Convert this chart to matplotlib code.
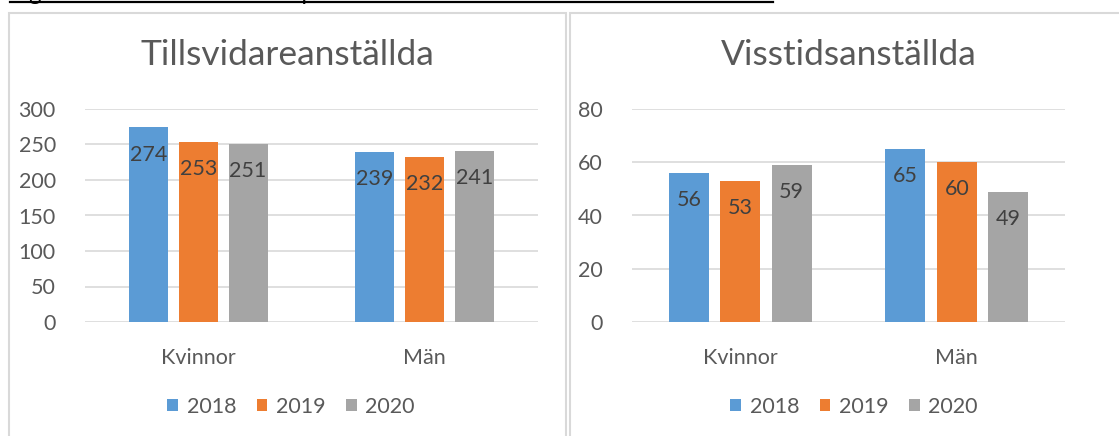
import matplotlib
matplotlib.use("Agg")
import matplotlib.pyplot as plt
from matplotlib.patches import Rectangle, Patch
from matplotlib.lines import Line2D
import numpy as np

categories = ["Kvinnor", "Män"]
years = ["2018", "2019", "2020"]
tillsvidare = {"2018": [274, 239], "2019": [253, 232], "2020": [251, 241]}
visstid = {"2018": [56, 65], "2019": [53, 60], "2020": [59, 49]}
colors = ["#5B9BD5", "#ED7D31", "#A5A5A5"]
txt = "#595959"
grid = "#D9D9D9"
FONT = ["Lato", "DejaVu Sans"]
plt.rcParams["font.family"] = FONT

W, H = 1119, 436
fig = plt.figure(figsize=(W / 100, H / 100), dpi=100)

def fx(px):
    return px / W

def fy(py):
    return 1 - py / H

# panel borders
fig.patches.append(Rectangle((fx(8.5), fy(440)), fx(566 - 8.5), fy(12.5) - fy(440),
                             transform=fig.transFigure, fill=False, ec=grid, lw=1.5))
fig.patches.append(Rectangle((fx(569.5), fy(440)), fx(1125 - 569.5), fy(12.5) - fy(440),
                             transform=fig.transFigure, fill=False, ec=grid, lw=1.5))

# cut-off caption at the top (as in the reference, only its lowest part is visible)
fig.text(fx(10), 1.0, "Figur 3. Antal tillsvidare- respektive visstidsanställda i Trosa kommun",
         fontsize=17, color="black", va="baseline", ha="left")
fig.add_artist(Line2D([fx(10), fx(773)], [fy(2.5), fy(2.5)], transform=fig.transFigure,
                      color="black", lw=1.6))

def panel(rect, data, ymax, step, title, title_x, bw, stepw, legend_x):
    ax = fig.add_axes(rect)
    x = np.arange(len(categories))
    for i, (y, c) in enumerate(zip(years, colors)):
        vals = data[y]
        pos = x + (i - 1) * stepw
        ax.bar(pos, vals, width=bw, color=c, zorder=3)
        for p, v in zip(pos, vals):
            ax.annotate(str(v), (p, v), xytext=(0, -19.5), textcoords="offset points",
                        ha="center", va="center", fontsize=15.5, color="#404040", zorder=4)
    ax.set_xlim(-0.5, 1.5)
    ax.set_ylim(0, ymax)
    ax.set_yticks(np.arange(0, ymax + 1, step))
    ax.set_xticks(x)
    ax.set_xticklabels(categories)
    ax.yaxis.grid(True, color=grid, lw=1.2, zorder=0)
    ax.set_axisbelow(True)
    for s in ax.spines.values():
        s.set_visible(False)
    ax.tick_params(axis="both", length=0, labelsize=15.5, labelcolor=txt)
    ax.tick_params(axis="y", pad=21)
    ax.tick_params(axis="x", pad=19)
    fig.text(title_x, fy(55), title, fontsize=25.5, color=txt, ha="center", va="center")
    handles = [Patch(facecolor=c, edgecolor="none") for c in colors]
    fig.legend(handles, years, loc="center", bbox_to_anchor=(legend_x, fy(407)),
               ncol=3, frameon=False, fontsize=15.5, labelcolor=txt,
               handlelength=0.5, handleheight=0.5, handletextpad=0.4, columnspacing=0.95)
    return ax

bottom = fy(322)
height = fy(109) - fy(322)
panel([fx(85), bottom, fx(538 - 85), height], tillsvidare, 300, 50,
      "Tillsvidareanställda", fx(287), 0.172, 0.22, fx(291))
panel([fx(632), bottom, fx(1065 - 632), height], visstid, 80, 20,
      "Visstidsanställda", fx(849), 0.185, 0.238, fx(854))

fig.savefig("out.png", dpi=100)
